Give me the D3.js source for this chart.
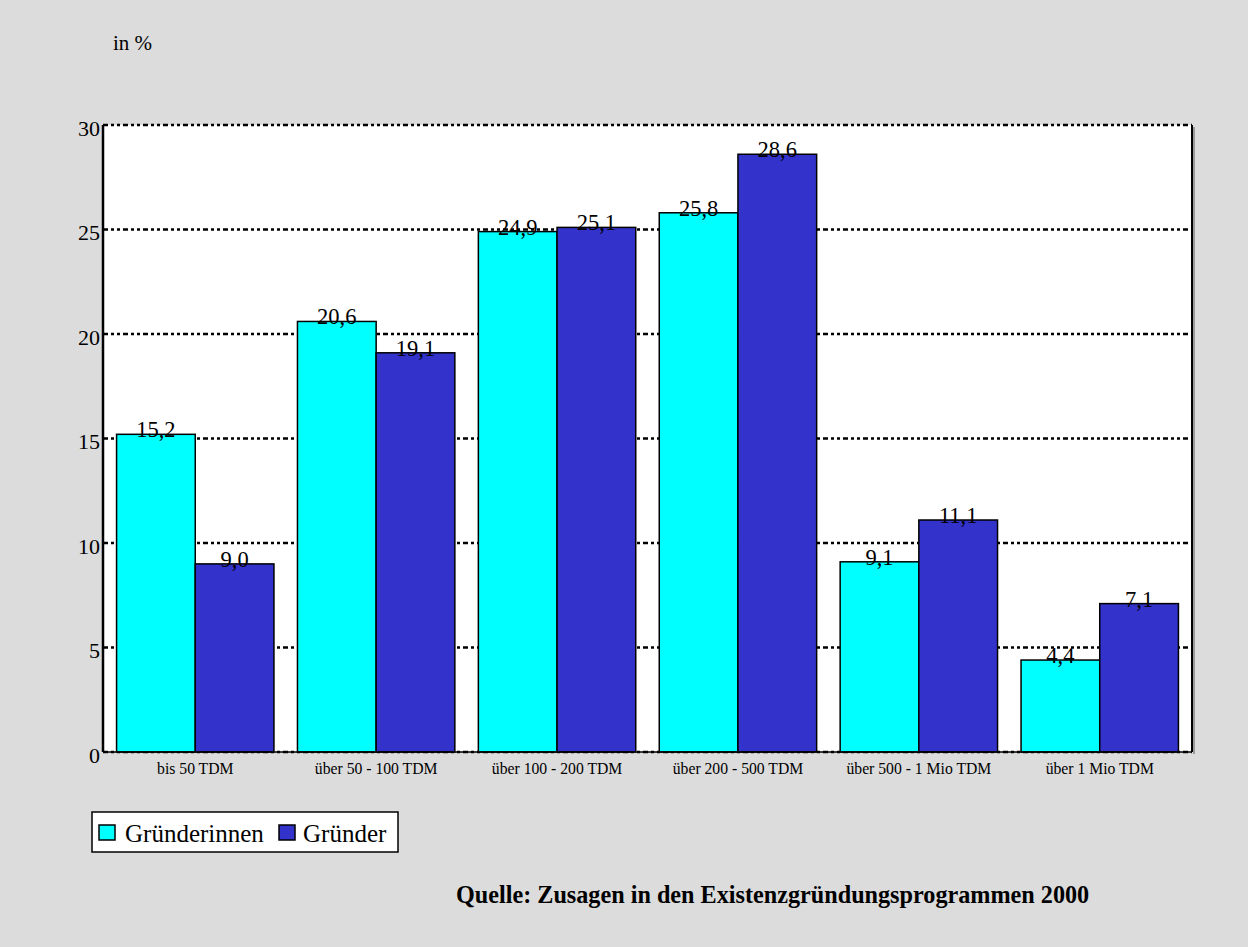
<!DOCTYPE html>
<html><head><meta charset="utf-8">
<script src="https://cdn.jsdelivr.net/npm/d3@7"></script>
<style>html,body{margin:0;padding:0;background:#dcdcdc;} svg{display:block;font-family:"Liberation Serif","Times New Roman",serif;}</style>
</head><body>
<script>
const categories = ["bis 50 TDM","über 50 - 100 TDM","über 100 - 200 TDM","über 200 - 500 TDM","über 500 - 1 Mio TDM","über 1 Mio TDM"];
const seriesNames = ["Gründerinnen","Gründer"];
const gruenderinnen = [15.2,20.6,24.9,25.8,9.1,4.4];
const gruender = [9.0,19.1,25.1,28.6,11.1,7.1];
const yTicks = [0,5,10,15,20,25,30];
const colors = ["#00ffff","#3333cc"];

const W=1248,H=947;
const svg=d3.select("body").append("svg").attr("width",W).attr("height",H);
svg.append("rect").attr("width",W).attr("height",H).attr("fill","#dcdcdc");

const L=103,R=1192,T=125,B=752;
const x0=d3.scaleBand().domain(categories).range([L,R]).paddingInner(0.13).paddingOuter(0.075);
const x1=d3.scaleBand().domain(seriesNames).range([0,x0.bandwidth()]);
const y=d3.scaleLinear().domain([0,30]).range([B,T]);

// plot background
svg.append("rect").attr("x",L).attr("y",T).attr("width",R-L).attr("height",B-T).attr("fill","#fff");

// gridlines
svg.append("g").selectAll("line").data(yTicks).join("line")
  .attr("x1",L).attr("x2",R).attr("y1",d=>y(d)).attr("y2",d=>y(d))
  .attr("stroke","#000").attr("stroke-width",2.5).attr("stroke-dasharray","5,3,3,3,3,3");

// bars
const data=categories.map((c,i)=>({c,vals:[gruenderinnen[i],gruender[i]]}));
const g=svg.append("g");
data.forEach(d=>{
  d.vals.forEach((v,j)=>{
    g.append("rect").attr("x",x0(d.c)+x1(seriesNames[j])).attr("y",y(v))
      .attr("width",x1.bandwidth()).attr("height",B-y(v))
      .attr("fill",colors[j]).attr("stroke","#000").attr("stroke-width",1.5);
  });
});
data.forEach(d=>{
  d.vals.forEach((v,j)=>{
    g.append("text").attr("x",x0(d.c)+x1(seriesNames[j])+x1.bandwidth()/2).attr("y",y(v)+3)
      .attr("text-anchor","middle").attr("font-size",22.5).attr("fill","#000")
      .text(v.toFixed(1).replace(".",","));
  });
});

// frame sides
svg.append("line").attr("x1",R+2).attr("x2",R+2).attr("y1",T+2).attr("y2",B+2).attr("stroke","#999").attr("stroke-width",2);
svg.append("line").attr("x1",L).attr("x2",L).attr("y1",T).attr("y2",B).attr("stroke","#000").attr("stroke-width",2.5);
svg.append("line").attr("x1",R).attr("x2",R).attr("y1",T).attr("y2",B).attr("stroke","#000").attr("stroke-width",2);
svg.append("line").attr("x1",L).attr("x2",R).attr("y1",B).attr("y2",B).attr("stroke","#000").attr("stroke-width",1.5);

// y axis labels
const yAxis=d3.axisLeft(y).tickValues(yTicks).tickSize(0).tickPadding(3).tickFormat(d3.format("d"));
const ya=svg.append("g").attr("transform",`translate(${L},3)`).call(yAxis);
ya.select(".domain").remove();
ya.selectAll("text").attr("font-size",22).attr("font-family","Liberation Serif").attr("fill","#000");

// x axis labels
const xAxis=d3.axisBottom(x0).tickSize(0).tickPadding(11);
const xa=svg.append("g").attr("transform",`translate(0,${B})`).call(xAxis);
xa.select(".domain").remove();
xa.selectAll("text").attr("font-size",15.7).attr("font-family","Liberation Serif").attr("fill","#000");

// unit label
svg.append("text").attr("x",113).attr("y",50).attr("font-size",21).text("in %");

// legend
const lg=svg.append("g");
lg.append("rect").attr("x",92).attr("y",812).attr("width",306).attr("height",40).attr("fill","#fff").attr("stroke","#000").attr("stroke-width",1.5);
const items=[{n:seriesNames[0],x:99,tx:125},{n:seriesNames[1],x:279,tx:303}];
items.forEach((it,i)=>{
  lg.append("rect").attr("x",it.x).attr("y",825).attr("width",16).attr("height",15).attr("fill",colors[i]).attr("stroke","#000").attr("stroke-width",1.5);
  lg.append("text").attr("x",it.tx).attr("y",842).attr("font-size",25).text(it.n);
});

// source
svg.append("text").attr("x",456).attr("y",903).attr("font-size",24.2).attr("font-weight","bold").text("Quelle: Zusagen in den Existenzgründungsprogrammen 2000");
</script>
</body></html>
